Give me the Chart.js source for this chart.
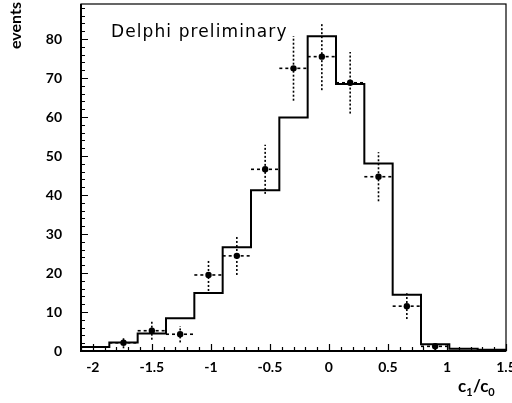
<!DOCTYPE html>
<html>
<head>
<meta charset="utf-8">
<script src="https://cdn.jsdelivr.net/npm/chart.js@4/dist/chart.umd.min.js"></script>
<style>
  html, body { margin: 0; padding: 0; background: #fff; }
  #wrap { width: 512px; height: 403px; }
</style>
</head>
<body>
<div id="wrap"><canvas id="c" width="512" height="403"></canvas></div>
<script>
// ---- data ----
const binEdges   = [-2.1, -1.86, -1.62, -1.38, -1.14, -0.9, -0.66, -0.42, -0.18, 0.06, 0.3, 0.54, 0.78, 1.02, 1.26, 1.5];
const histValues = [1.0, 2.2, 4.5, 8.4, 14.9, 26.6, 41.2, 59.9, 80.7, 68.5, 48.1, 14.4, 1.7, 0.6, 0.3];
const pointX     = [-1.74, -1.5, -1.26, -1.02, -0.78, -0.54, -0.30, -0.06, 0.18, 0.42, 0.66, 0.90];
const pointY     = [2.1, 5.2, 4.3, 19.5, 24.4, 46.6, 72.5, 75.5, 68.8, 44.7, 11.5, 1.2];
const pointErr   = [1.4, 2.3, 2.1, 4.1, 4.9, 6.3, 8.3, 8.6, 7.9, 6.3, 3.3, 1.0];
const xTickLabels = [-2, -1.5, -1, -0.5, 0, 0.5, 1, 1.5];
const yTickLabels = [0, 10, 20, 30, 40, 50, 60, 70, 80];
const xRange = [-2.1, 1.5];
const yRange = [0, 89];
const xMinorStep = 0.1;
const yMinorStep = 2;

const histData = binEdges.map((e, i) => ({ x: e, y: histValues[Math.min(i, histValues.length - 1)] }));
const pointData = pointX.map((x, i) => ({ x: x, y: pointY[i] }));

function binOf(x) {
  for (let i = 0; i < binEdges.length - 1; i++) {
    if (x >= binEdges[i] && x < binEdges[i + 1]) return [binEdges[i], binEdges[i + 1]];
  }
  return [x, x];
}

const decor = {
  id: 'decor',
  beforeDatasetsDraw(chart) {
    const ctx = chart.ctx, xs = chart.scales.x, ys = chart.scales.y;
    ctx.save();
    ctx.strokeStyle = '#000';
    ctx.lineWidth = 1.6;
    pointX.forEach((x, i) => {
      const [lo, hi] = binOf(x);
      const py = ys.getPixelForValue(pointY[i]);
      const px = xs.getPixelForValue(x);
      ctx.setLineDash([3, 3]);
      ctx.beginPath();
      ctx.moveTo(xs.getPixelForValue(lo), py);
      ctx.lineTo(xs.getPixelForValue(hi), py);
      ctx.stroke();
      ctx.setLineDash([2, 2]);
      ctx.beginPath();
      ctx.moveTo(px, ys.getPixelForValue(pointY[i] - pointErr[i]));
      ctx.lineTo(px, ys.getPixelForValue(pointY[i] + pointErr[i]));
      ctx.stroke();
    });
    ctx.restore();
  },
  afterDraw(chart) {
    const ctx = chart.ctx, a = chart.chartArea, xs = chart.scales.x, ys = chart.scales.y;
    ctx.save();
    ctx.strokeStyle = '#000';
    // frame
    ctx.lineWidth = 1.2;
    ctx.strokeRect(a.left, a.top, a.right - a.left, a.bottom - a.top);
    ctx.lineWidth = 2;
    ctx.beginPath();
    ctx.moveTo(a.left, a.top); ctx.lineTo(a.left, a.bottom); ctx.lineTo(a.right, a.bottom);
    ctx.stroke();
    // inward ticks
    ctx.lineWidth = 1.2;
    ctx.beginPath();
    for (let v = yRange[0]; v <= yRange[1] + 1e-9; v += yMinorStep) {
      const y = Math.round(ys.getPixelForValue(v)) + 0.5;
      const major = Math.abs(v % 10) < 1e-9;
      ctx.moveTo(a.left, y); ctx.lineTo(a.left + (major ? 7 : 4), y);
    }
    for (let k = Math.ceil(xRange[0] / xMinorStep); k * xMinorStep <= xRange[1] + 1e-9; k++) {
      const v = k * xMinorStep;
      const x = Math.round(xs.getPixelForValue(v)) + 0.5;
      const major = Math.abs(Math.round(v * 2) - v * 2) < 1e-6;
      ctx.moveTo(x, a.bottom); ctx.lineTo(x, a.bottom - (major ? 7 : 4));
    }
    ctx.stroke();
    // annotation
    ctx.fillStyle = '#000';
    ctx.font = '17px "DejaVu Sans"';
    if ('letterSpacing' in ctx) ctx.letterSpacing = '1.1px';
    ctx.textBaseline = 'alphabetic';
    ctx.textAlign = 'left';
    ctx.fillText('Delphi preliminary', 111, 37);
    if ('letterSpacing' in ctx) ctx.letterSpacing = '0px';
    // y title
    ctx.save();
    ctx.translate(21, 2);
    ctx.rotate(-Math.PI / 2);
    ctx.font = 'bold 16px Lato';
    ctx.textAlign = 'right';
    ctx.fillText('events', 0, 0);
    ctx.restore();
    // x title c1/c0
    ctx.font = 'bold 17px Lato';
    ctx.textAlign = 'left';
    let x = 458, base = 392;
    ctx.fillText('c', x, base); x += ctx.measureText('c').width;
    ctx.font = 'bold 11px Lato';
    ctx.fillText('1', x, base + 4); x += ctx.measureText('1').width + 0.5;
    ctx.font = 'bold 17px Lato';
    ctx.fillText('/c', x, base); x += ctx.measureText('/c').width;
    ctx.font = 'bold 11px Lato';
    ctx.fillText('0', x, base + 4);
    ctx.restore();
  }
};

new Chart(document.getElementById('c'), {
  type: 'scatter',
  data: {
    datasets: [
      {
        type: 'line',
        data: histData,
        stepped: 'before',
        borderColor: '#000',
        borderWidth: 2,
        pointRadius: 0,
        fill: false,
        order: 1
      },
      {
        type: 'scatter',
        data: pointData,
        pointStyle: 'circle',
        pointRadius: 3.2,
        backgroundColor: '#000',
        borderColor: '#000',
        borderWidth: 0,
        order: 0
      }
    ]
  },
  options: {
    responsive: false,
    animation: false,
    layout: { padding: { left: 0, right: 6, top: 3, bottom: 0 } },
    plugins: { legend: { display: false }, tooltip: { enabled: false } },
    scales: {
      x: {
        type: 'linear',
        min: xRange[0], max: xRange[1],
        border: { display: false },
        grid: { display: false, drawTicks: false },
        afterBuildTicks: s => { s.ticks = xTickLabels.map(v => ({ value: v })); },
        afterFit: s => { s.height = 52; s.paddingLeft = 0; s.paddingRight = 0; },
        ticks: {
          color: '#000',
          padding: 8,
          maxRotation: 0,
          autoSkip: false,
          font: { family: 'Lato', weight: 'bold', size: 14 },
          callback: v => String(v)
        }
      },
      y: {
        type: 'linear',
        min: yRange[0], max: yRange[1],
        border: { display: false },
        grid: { display: false, drawTicks: false },
        afterBuildTicks: s => { s.ticks = yTickLabels.map(v => ({ value: v })); },
        afterFit: s => { s.width = 81; s.paddingTop = 0; s.paddingBottom = 0; },
        ticks: {
          color: '#000',
          padding: 19,
          autoSkip: false,
          font: { family: 'Lato', weight: 'bold', size: 14 },
          callback: v => String(v)
        }
      }
    }
  },
  plugins: [decor]
});
</script>
</body>
</html>
